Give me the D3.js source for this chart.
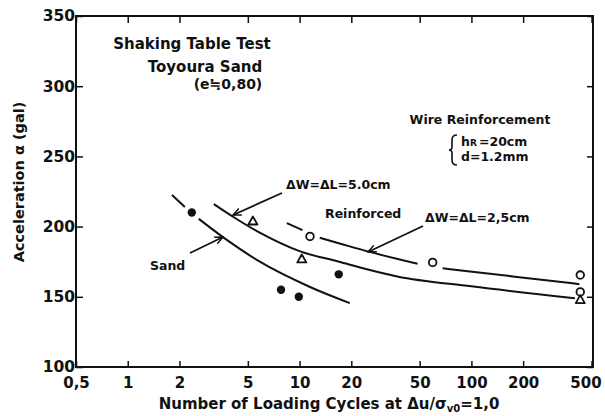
<!DOCTYPE html>
<html>
<head>
<meta charset="utf-8">
<script src="https://cdn.jsdelivr.net/npm/d3@7"></script>
<style>
  body { margin: 0; background: #fff; }
  svg text { font-family: "DejaVu Sans", sans-serif; font-weight: bold; fill: #111; }
  .axis path, .axis line { stroke: #111; }
  .curve { fill: none; stroke: #111; stroke-width: 2; }
</style>
</head>
<body>
<div id="chart"></div>
<script>
// tick labels
var xTicks = [0.5, 1, 2, 5, 10, 20, 50, 100, 200, 500];
var xTickLabels = ["0,5", "1", "2", "5", "10", "20", "50", "100", "200", "500"];
var yTicks = [100, 150, 200, 250, 300, 350];

// measured points [cycles, acceleration]
var sandPoints = [[2.36, 210], [7.8, 155], [9.9, 150], [16.9, 166]];
var wire50Points = [[5.35, 204], [10.3, 177], [430, 148]];
var wire25Points = [[11.5, 193], [59.5, 174.5], [430, 165.5], [430, 153.5]];

// fitted curves, each split where the drawing breaks around a marker
var sandCurve = [
  [[1.81, 222.5], [2.15, 214]],
  [[2.59, 205.5], [3.77, 190.5], [5.87, 175], [11.5, 157], [19.6, 145.5]]
];
var wire50Curve = [
  [[3.17, 216], [4.1, 207], [5.9, 195.5], [10, 182.5], [17, 175], [24, 170], [37, 164.5], [100, 157.5], [400, 149]]
];
var wire25Curve = [
  [[8.43, 202.5], [10.4, 197.5]],
  [[13.1, 192], [17.1, 188], [25.6, 182], [48.6, 173.5]],
  [[68, 170.3], [101, 167.8], [388, 159.6], [425, 159]]
];

var width = 605, height = 416;
var x = d3.scaleLog().domain([0.5, 510]).range([76, 593]);
var y = d3.scaleLinear().domain([100, 350]).range([367, 16]);

var svg = d3.select("#chart").append("svg")
    .attr("width", width)
    .attr("height", height);

// arrow head
svg.append("defs").append("marker")
    .attr("id", "arrow")
    .attr("viewBox", "0 0 10 10")
    .attr("refX", 9).attr("refY", 5)
    .attr("markerWidth", 9).attr("markerHeight", 9)
    .attr("markerUnits", "userSpaceOnUse")
    .attr("orient", "auto")
    .append("path")
    .attr("d", "M0,1 L9,5 L0,9")
    .attr("fill", "none")
    .attr("stroke", "#111")
    .attr("stroke-width", 1.6);

// frame
svg.append("rect")
    .attr("x", x(0.5)).attr("y", y(350))
    .attr("width", 593 - x(0.5)).attr("height", y(100) - y(350))
    .attr("fill", "none").attr("stroke", "#111").attr("stroke-width", 2);

// axes, ticks pointing inward
var xAxis = d3.axisBottom(x).tickValues(xTicks)
    .tickFormat(function(d, i) { return xTickLabels[i]; })
    .tickSize(-6).tickPadding(10);
svg.append("g").attr("class", "axis")
    .attr("transform", "translate(0," + y(100) + ")")
    .call(xAxis)
    .call(function(g) { g.select(".domain").remove(); })
    .selectAll("text")
    .style("font-size", "15px").style("font-family", null)
    .attr("dx", function(d) { return d === 500 ? -6 : 0; });

svg.append("g").attr("class", "axis")
    .attr("transform", "translate(0," + y(350) + ")")
    .call(d3.axisTop(x).tickValues(xTicks).tickFormat("").tickSize(-7))
    .call(function(g) { g.select(".domain").remove(); });

svg.append("g").attr("class", "axis")
    .attr("transform", "translate(" + x(0.5) + ",0)")
    .call(d3.axisLeft(y).tickValues(yTicks).tickSize(-7).tickPadding(1))
    .call(function(g) { g.select(".domain").remove(); })
    .selectAll("text").style("font-size", "15.5px").style("font-family", null);

svg.append("g").attr("class", "axis")
    .attr("transform", "translate(593,0)")
    .call(d3.axisRight(y).tickValues(yTicks).tickFormat("").tickSize(-6))
    .call(function(g) { g.select(".domain").remove(); });

svg.selectAll(".axis line").attr("stroke-width", 1.5);

// axis titles
svg.append("text")
    .attr("transform", "translate(24,182) rotate(-90)")
    .attr("text-anchor", "middle")
    .style("font-size", "14.5px")
    .text("Acceleration \u03b1  (gal)");

var xt = svg.append("text")
    .attr("x", 329).attr("y", 409)
    .attr("text-anchor", "middle")
    .style("font-size", "15px");
xt.append("tspan").text("Number of Loading Cycles at \u0394u/\u03c3");
xt.append("tspan").attr("dy", 3).style("font-size", "10px").text("v0");
xt.append("tspan").attr("dy", -3).text("=1,0");

// curves
var line = d3.line()
    .x(function(d) { return x(d[0]); })
    .y(function(d) { return y(d[1]); })
    .curve(d3.curveMonotoneX);

[sandCurve, wire50Curve, wire25Curve].forEach(function(c) {
    svg.selectAll(null).data(c).enter().append("path")
        .attr("class", "curve")
        .attr("d", line);
});

// markers
svg.selectAll(".sand").data(sandPoints).enter().append("circle")
    .attr("class", "sand")
    .attr("cx", function(d) { return x(d[0]); })
    .attr("cy", function(d) { return y(d[1]); })
    .attr("r", 4.2)
    .attr("fill", "#111");

svg.selectAll(".w25").data(wire25Points).enter().append("circle")
    .attr("class", "w25")
    .attr("cx", function(d) { return x(d[0]); })
    .attr("cy", function(d) { return y(d[1]); })
    .attr("r", 3.8)
    .attr("fill", "#fff").attr("stroke", "#111").attr("stroke-width", 1.8);

svg.selectAll(".w50").data(wire50Points).enter().append("path")
    .attr("class", "w50")
    .attr("transform", function(d) { return "translate(" + x(d[0]) + "," + y(d[1]) + ")"; })
    .attr("d", "M0,-4.5 L4.5,3.5 L-4.5,3.5 Z")
    .attr("fill", "#fff").attr("stroke", "#111").attr("stroke-width", 1.8)
    .attr("stroke-linejoin", "round");

// annotations
function label(tx, ty, s, size) {
    return svg.append("text").attr("x", tx).attr("y", ty)
        .style("font-size", (size || 13) + "px").text(s);
}
label(192, 49, "Shaking Table Test", 15).attr("text-anchor", "middle");
label(205, 72, "Toyoura Sand", 15).attr("text-anchor", "middle");
label(228, 89, "(e\u22520,80)", 14).attr("text-anchor", "middle");

label(480, 124, "Wire Reinforcement", 12.5).attr("text-anchor", "middle");
label(461, 146, "h", 12.5).append("tspan").style("font-size", "9px").text("R");
svg.append("text").attr("x", 479).attr("y", 146).style("font-size", "12.5px").text("=20cm");
label(461, 161, "d=1.2mm", 12.5);
svg.append("path")
    .attr("d", "M457,135 Q452,135 452,140 L452,147 Q452,150 449,150 Q452,150 452,153 L452,160 Q452,165 457,165")
    .attr("fill", "none").attr("stroke", "#111").attr("stroke-width", 1.6);

label(286, 189, "\u0394W=\u0394L=5.0cm", 12.5);
label(325, 218, "Reinforced", 12.5);
label(425, 222, "\u0394W=\u0394L=2,5cm", 12.5);
label(150, 270, "Sand", 12.5);

// leader arrows
function arrow(x1, y1, x2, y2) {
    svg.append("line")
        .attr("x1", x1).attr("y1", y1).attr("x2", x2).attr("y2", y2)
        .attr("stroke", "#111").attr("stroke-width", 1.8)
        .attr("marker-end", "url(#arrow)");
}
arrow(282, 193, 233, 215);
arrow(423, 226, 368, 252);
arrow(190, 253, 223, 237);
</script>
</body>
</html>
